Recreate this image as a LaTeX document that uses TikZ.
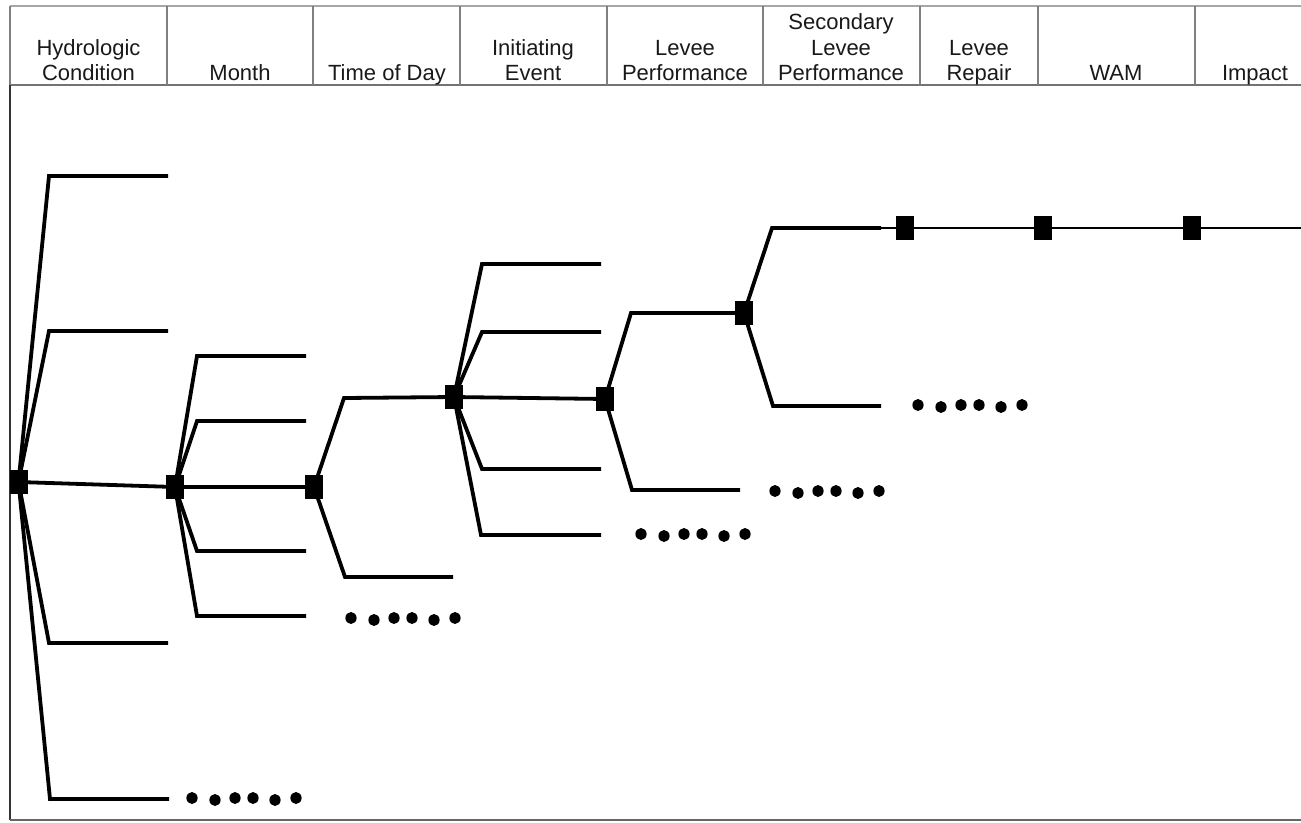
\documentclass[tikz,border=0pt]{standalone}
\usepackage{fontspec}
\setmainfont{Liberation Sans}
\newcommand\dotrun[1]{%
  \foreach \dx/\dy in {0/0,23/2,43/0,61/0,83/2,104/0}
    \fill[shift={(#1)}] (\dx,\dy) ellipse (5.6pt and 6pt);}
\begin{document}
\begin{tikzpicture}[x=1pt,y=-1pt,
  chance/.style={fill=black, draw=none, minimum width=18pt, minimum height=24pt, inner sep=0pt},
  branch/.style={line width=3.8pt, line join=miter, draw=black},
  thinbranch/.style={line width=2.4pt, draw=black},
  rule/.style={line width=1.8pt},
  heading/.style={font=\fontsize{22}{25.5}\selectfont, text=black!90, align=center, anchor=base, inner sep=0pt}
]
\useasboundingbox (0,0) rectangle (1301,822);

% header frame and column rules
\draw[rule, draw=black!35] (10,6) -- (1301,6);
\draw[rule, draw=black!55] (10,85) -- (1301,85);
\foreach \x in {167,313,460,607,763,920,1038,1195}
  \draw[rule, draw=black!50] (\x,6) -- (\x,85);
\draw[rule, draw=black!50] (10,6) -- (10,85);
\draw[line width=2.2pt, draw=black!80] (10,85) -- (10,820);
\draw[line width=2.2pt, draw=black!60] (10,820) -- (1301,820);

% column headings (anchored on the baseline of their last line)
\node[heading] (hHydro)  at (88.5,80.5) {Hydrologic\\Condition};
\node[heading] (hMonth)  at (240,80.5)  {Month};
\node[heading] (hTime)   at (387,80.5)  {Time of Day};
\node[heading] (hInit)   at (533,80.5)  {Initiating\\Event};
\node[heading] (hLevee)  at (685,80.5)  {Levee\\Performance};
\node[heading] (hSecond) at (841,80.5)  {Secondary\\Levee\\Performance};
\node[heading] (hRepair) at (979,80.5)  {Levee\\Repair};
\node[heading] (hWam)    at (1116,80.5) {WAM};
\node[heading] (hImpact) at (1255,80.5) {Impact};

% chance nodes
\node[chance] (root)   at (18.5,482) {};
\node[chance] (month)  at (175,487)  {};
\node[chance] (tod)    at (314,487)  {};
\node[chance] (init)   at (454,397)  {};
\node[chance] (levee)  at (605,399)  {};
\node[chance] (second) at (744,313)  {};
\node[chance] (repair) at (905,228)  {};
\node[chance] (wam)    at (1043,228) {};
\node[chance] (impact) at (1192,228) {};

% branch ends
\coordinate (r1) at (168,176);
\coordinate (r2) at (168,331);
\coordinate (r4) at (168,643);
\coordinate (r5) at (169,799);
\coordinate (m1) at (306,356);
\coordinate (m2) at (306,421);
\coordinate (m4) at (306,551);
\coordinate (m5) at (306,616);
\coordinate (t2) at (453,577);
\coordinate (i1) at (601,264);
\coordinate (i2) at (601,332);
\coordinate (i4) at (601,469);
\coordinate (i5) at (601,535);
\coordinate (l2) at (740,490);
\coordinate (s1) at (881,228);
\coordinate (s2) at (881,406);
\coordinate (edge) at (1301,228);

% hydrologic condition
\draw[branch] (root.center) -- (49,176) -- (r1);
\draw[branch] (root.center) -- (49,331) -- (r2);
\draw[branch] (root.center) -- (month.center);
\draw[branch] (root.center) -- (49,643) -- (r4);
\draw[branch] (root.center) -- (50,799) -- (r5);
% month
\draw[branch] (month.center) -- (197,356) -- (m1);
\draw[branch] (month.center) -- (197,421) -- (m2);
\draw[branch] (month.center) -- (tod.center);
\draw[branch] (month.center) -- (197,551) -- (m4);
\draw[branch] (month.center) -- (197,616) -- (m5);
% time of day
\draw[branch] (tod.center) -- (344,398) -- (init.center);
\draw[branch] (tod.center) -- (345,577) -- (t2);
% initiating event
\draw[branch] (init.center) -- (482,264) -- (i1);
\draw[branch] (init.center) -- (482,332) -- (i2);
\draw[branch] (init.center) -- (levee.center);
\draw[branch] (init.center) -- (482,469) -- (i4);
\draw[branch] (init.center) -- (481,535) -- (i5);
% levee performance
\draw[branch] (levee.center) -- (631,313) -- (second.center);
\draw[branch] (levee.center) -- (632,490) -- (l2);
% secondary levee performance
\draw[branch] (second.center) -- (772,228) -- (s1);
\draw[branch] (second.center) -- (773,406) -- (s2);
% repair, WAM, impact
\draw[thinbranch] (s1) -- (repair) -- (wam) -- (impact) -- (edge);

% omitted branches
\dotrun{192,798}
\dotrun{351,618}
\dotrun{641,534}
\dotrun{775,491}
\dotrun{918,405}
\end{tikzpicture}
\end{document}
